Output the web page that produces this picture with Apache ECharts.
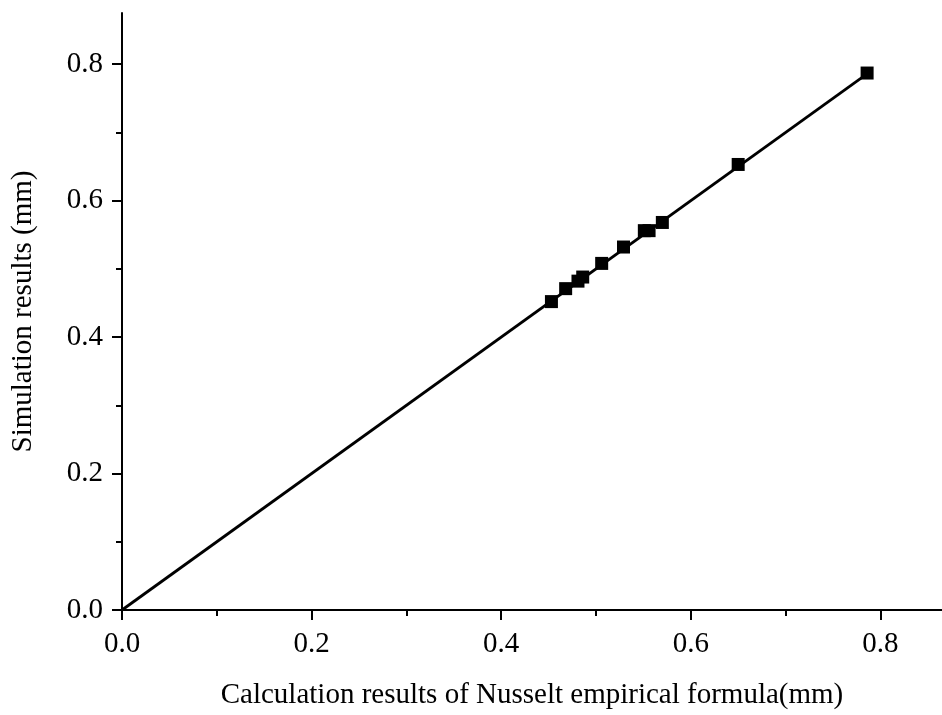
<!DOCTYPE html>
<html>
<head>
<meta charset="utf-8">
<script src="https://cdn.jsdelivr.net/npm/echarts@6/dist/echarts.min.js"></script>
<style>
html,body{margin:0;padding:0;background:#fff;}
#chart{width:942px;height:715px;}
</style>
</head>
<body>
<div id="chart"></div>
<script>
// Data
var calcResults = [0.453, 0.468, 0.481, 0.486, 0.506, 0.529, 0.551, 0.556, 0.570, 0.650, 0.786];
var simResults  = [0.452, 0.471, 0.482, 0.488, 0.508, 0.532, 0.556, 0.556, 0.568, 0.653, 0.787];
var fitLineX = [0, 0.787];
var fitLineY = [0, 0.787];
var majorTicks = [0, 0.2, 0.4, 0.6, 0.8];
var minorTicks = [0.1, 0.3, 0.5, 0.7];
var xTitle = 'Calculation results of Nusselt empirical formula(mm)';
var yTitle = 'Simulation results (mm)';

var FONT = "'Liberation Serif', 'Times New Roman', serif";
var X_MAX = 0.865, Y_MAX = 0.875;

function pairs(a, b) { return a.map(function (v, i) { return [v, b[i]]; }); }

var chart = echarts.init(document.getElementById('chart'));
var lineStyleAxis = { color: '#000', width: 2 };

chart.setOption({
  animation: false,
  backgroundColor: '#fff',
  grid: { left: 122, right: 0, top: 13, bottom: 102 },
  xAxis: [{
    type: 'value', min: 0, max: X_MAX,
    name: xTitle, nameLocation: 'middle', nameGap: 71,
    nameTextStyle: { fontFamily: FONT, fontSize: 29, color: '#000' },
    axisLine: { show: true, lineStyle: lineStyleAxis },
    axisTick: { show: true, inside: false, length: 10, lineStyle: lineStyleAxis, customValues: majorTicks },
    axisLabel: { show: true, margin: 20, fontFamily: FONT, fontSize: 29, color: '#000', customValues: majorTicks,
      formatter: function (v) { return v.toFixed(1); } },
    splitLine: { show: false }
  }, {
    type: 'value', min: 0, max: X_MAX, position: 'bottom',
    axisLine: { show: false },
    axisTick: { show: true, inside: false, length: 6, lineStyle: lineStyleAxis, customValues: minorTicks },
    axisLabel: { show: false },
    splitLine: { show: false }
  }],
  yAxis: [{
    type: 'value', min: 0, max: Y_MAX,
    name: yTitle, nameLocation: 'middle', nameGap: 84, nameRotate: 90,
    nameTextStyle: { fontFamily: FONT, fontSize: 29, color: '#000' },
    axisLine: { show: true, lineStyle: lineStyleAxis },
    axisTick: { show: true, inside: false, length: 10, lineStyle: lineStyleAxis, customValues: majorTicks },
    axisLabel: { show: true, margin: 19, fontFamily: FONT, fontSize: 29, color: '#000', customValues: majorTicks,
      formatter: function (v) { return v.toFixed(1); } },
    splitLine: { show: false }
  }, {
    type: 'value', min: 0, max: Y_MAX, position: 'left',
    axisLine: { show: false },
    axisTick: { show: true, inside: false, length: 6, lineStyle: lineStyleAxis, customValues: minorTicks },
    axisLabel: { show: false },
    splitLine: { show: false }
  }],
  series: [{
    type: 'line',
    data: pairs(fitLineX, fitLineY),
    showSymbol: false, symbol: 'none',
    lineStyle: { color: '#000', width: 2.8 },
    z: 2
  }, {
    type: 'scatter',
    data: pairs(calcResults, simResults),
    symbol: 'rect', symbolSize: 13,
    itemStyle: { color: '#000', opacity: 1 },
    z: 3
  }]
});
</script>
</body>
</html>
